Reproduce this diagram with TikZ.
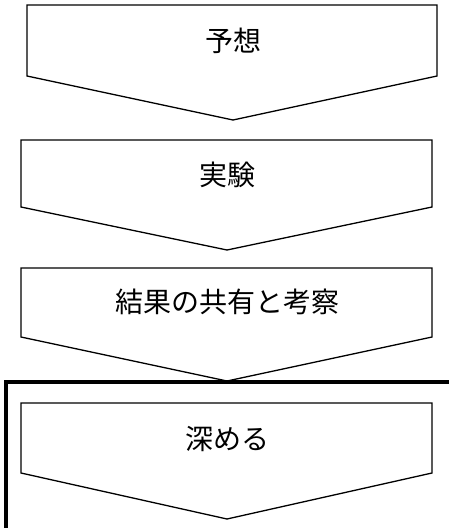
\documentclass[tikz,border=0pt]{standalone}
\usepackage{fontspec}
\newfontfamily\jpfont{Noto Sans CJK JP}
\begin{document}
\begin{tikzpicture}[x=1pt,y=-1pt,
  chevron/.style={draw=black,line width=1.3pt,fill=white,line join=miter},
  label/.style={font=\jpfont\fontsize{28}{32}\selectfont,text=black,inner sep=0pt},
  frame/.style={draw=black,line width=4.5pt,line join=miter}]
\useasboundingbox (0,0) rectangle (449,528);
\fill[white] (0,0) rectangle (449,528);
% chevron 1
\coordinate (c1tl) at (27,5);
\coordinate (c1tr) at (437,5);
\coordinate (c1br) at (437,76);
\coordinate (c1tip) at (233,120);
\coordinate (c1bl) at (27,76);
\draw[chevron] (c1tl) -- (c1tr) -- (c1br) -- (c1tip) -- (c1bl) -- cycle;
\node[label] (t1) at (233,41) {予想};
% chevron 2
\coordinate (c2tl) at (21,140);
\coordinate (c2tr) at (432,140);
\coordinate (c2br) at (432,207);
\coordinate (c2tip) at (227,250);
\coordinate (c2bl) at (21,207);
\draw[chevron] (c2tl) -- (c2tr) -- (c2br) -- (c2tip) -- (c2bl) -- cycle;
\node[label] (t2) at (227,175) {実験};
% chevron 3
\coordinate (c3tl) at (21,268);
\coordinate (c3tr) at (432,268);
\coordinate (c3br) at (432,337);
\coordinate (c3tip) at (227,381);
\coordinate (c3bl) at (21,337);
\draw[chevron] (c3tl) -- (c3tr) -- (c3br) -- (c3tip) -- (c3bl) -- cycle;
\node[label] (t3) at (227,302) {結果の共有と考察};
% frame
\coordinate (fr) at (449,382);
\coordinate (fc) at (6,382);
\coordinate (fb) at (6,528);
\draw[frame] (fr) -- (fc) -- (fb);
% chevron 4
\coordinate (c4tl) at (21,403);
\coordinate (c4tr) at (432,403);
\coordinate (c4br) at (432,473);
\coordinate (c4tip) at (227,519);
\coordinate (c4bl) at (21,473);
\draw[chevron] (c4tl) -- (c4tr) -- (c4br) -- (c4tip) -- (c4bl) -- cycle;
\node[label] (t4) at (227,439) {深める};
\end{tikzpicture}
\end{document}
